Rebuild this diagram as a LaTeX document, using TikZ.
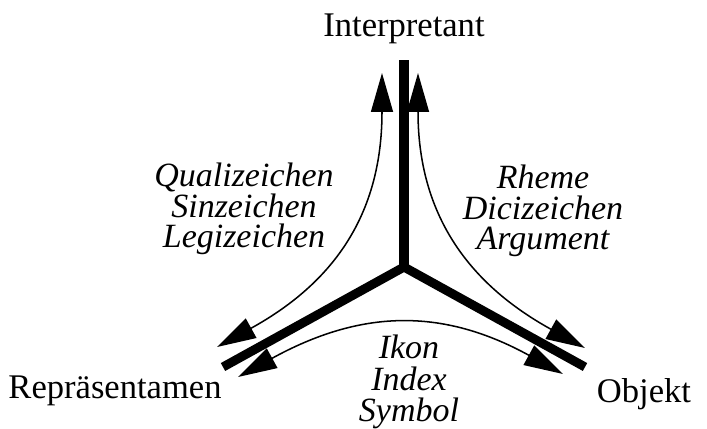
\documentclass[tikz,border=0pt]{standalone}
\usepackage{fontspec}
\setmainfont{Liberation Serif}
\usetikzlibrary{arrows.meta}
\begin{document}
\begin{tikzpicture}[x=0.03cm,y=-0.03cm,
    axis/.style={line width=7.7pt},
    relation/.style={line width=1.3pt,{Triangle[length=1.17cm,width=0.66cm]}-{Triangle[length=1.17cm,width=0.66cm]}},
    corner/.style={font=\fontsize{29.5}{29.5}\selectfont},
    classes/.style={font=\fontsize{29}{26}\selectfont\itshape,align=center},
    lowclasses/.style={font=\fontsize{29}{27}\selectfont\itshape,align=center}]
    \useasboundingbox (0,0) rectangle (707,429);
    % Dreistrahl
    \coordinate (c) at (404,267);
    \coordinate (i) at (404,60);
    \coordinate (r) at (223,367);
    \coordinate (o) at (585,367);
    \draw[axis] (r) -- (c) -- (o);
    \draw[axis] (c) -- (i);

    % Pfeilspitzen der Relationen
    \coordinate (ql) at (382,73);
    \coordinate (qr) at (217,347);
    \coordinate (rt) at (418,73);
    \coordinate (ro) at (585,348);
    \coordinate (il) at (238,377);
    \coordinate (io) at (563,374);
    \draw[relation] (ql) .. controls (382,213) and (335,282) .. (qr);
    \draw[relation] (rt) .. controls (418,213) and (467,283) .. (ro);
    \draw[relation] (il) .. controls (360,310) and (441,307) .. (io);

    \node[corner,anchor=base] (interp) at (404,37) {Interpretant};
    \node[corner,anchor=base] (repr) at (115,398) {Repräsentamen};
    \node[corner,anchor=base] (obj) at (644,402) {Objekt};

    \node[classes] (qual) at (244,209) {Qualizeichen\\Sinzeichen\\Legizeichen};
    \node[classes] (rhem) at (543,211) {Rheme\\Dicizeichen\\Argument};
    \node[lowclasses] (ikon) at (409,382) {Ikon\\Index\\Symbol};
\end{tikzpicture}
\end{document}
